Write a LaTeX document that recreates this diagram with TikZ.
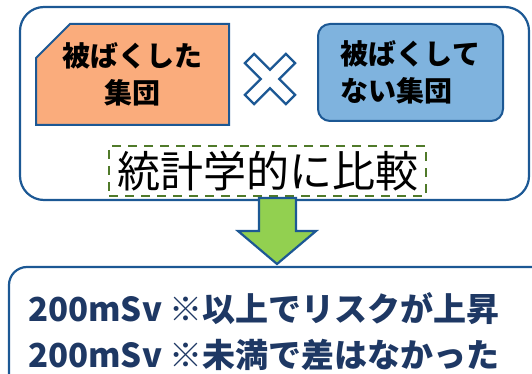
\documentclass[tikz,border=0pt]{standalone}
\usepackage{fontspec}
\newfontfamily\jp{Noto Sans CJK JP}
\usetikzlibrary{shapes.misc}
\definecolor{frameblue}{RGB}{28,88,148}
\definecolor{exposedfill}{RGB}{250,172,124}
\definecolor{controlfill}{RGB}{127,179,222}
\definecolor{arrowgreen}{RGB}{146,208,80}
\definecolor{dashgreen}{RGB}{80,122,42}
\definecolor{resultnavy}{RGB}{30,56,100}
\tikzset{
  groupbox/.style={draw=frameblue, line width=2pt, inner sep=0pt, font=\jp\bfseries\fontsize{28}{37}\selectfont},
  frame/.style={draw=frameblue, line width=2.2pt},
}
\begin{document}
\begin{tikzpicture}[x=1pt,y=-1pt]
\useasboundingbox (0,0) rectangle (532,374);

\draw[frame, rounded corners=24pt] (20,7) rectangle (529,200);
\node (exposed) [groupbox, chamfered rectangle, chamfered rectangle corners=north west,
  chamfered rectangle xsep=17pt, chamfered rectangle ysep=17pt, fill=exposedfill,
  minimum width=193pt, minimum height=101pt, align=center] at (132.5,74.5) {被ばくした\\集団};
\node (control) [groupbox, rounded corners=12pt, fill=controlfill,
  minimum width=185pt, minimum height=97pt, align=left] at (410.5,72.5) {被ばくして\\ない集団};
\coordinate (times) at (270,79);
\draw[draw=frameblue, fill=white, line width=2.3pt, shift={(times)}, rotate=45]
  (-6.5,-29) -- (6.5,-29) -- (6.5,-6.5) -- (29,-6.5) -- (29,6.5) -- (6.5,6.5) -- (6.5,29)
  -- (-6.5,29) -- (-6.5,6.5) -- (-29,6.5) -- (-29,-6.5) -- (-6.5,-6.5) -- cycle;
\node (compare) [draw=dashgreen, dash pattern=on 9pt off 7pt, line width=2.6pt,
  minimum width=317pt, minimum height=50pt, inner sep=0pt,
  font=\jp\fontsize{43}{47}\selectfont] at (267.5,171) {統計学的に比較};

\draw[draw=frameblue, fill=arrowgreen, line width=2.2pt] (259,198) -- (296,198) -- (296,231)
  -- (316,231) -- (277,264) -- (238,231) -- (259,231) -- cycle;

\draw[frame, rounded corners=18pt] (9,267) rectangle (560,420);
\node (result) [anchor=west, align=left, text=resultnavy, inner sep=0pt,
  font=\jp\bfseries\fontsize{33}{46}\selectfont] at (28,332)
  {200mSv ※以上でリスクが上昇\\200mSv ※未満で差はなかった};
\end{tikzpicture}
\end{document}
